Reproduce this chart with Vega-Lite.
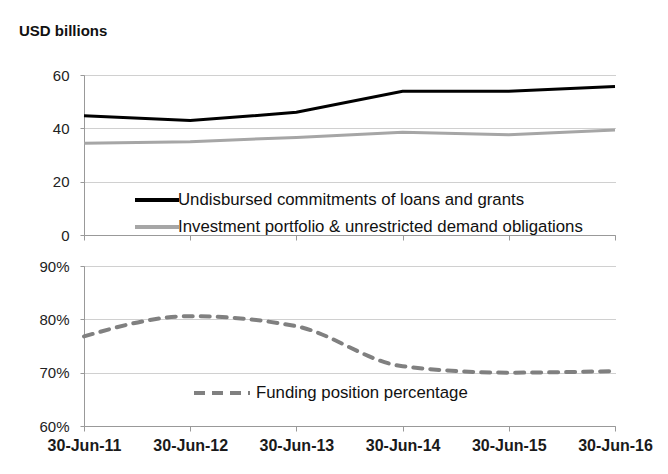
{
  "$schema": "https://vega.github.io/schema/vega-lite/v6.json",
  "padding": {"left": 19, "top": 24, "right": 5, "bottom": 5},
  "background": "white",
  "title": {"text": "USD billions", "anchor": "start", "frame": "bounds", "fontSize": 15, "fontWeight": "bold", "font": "Liberation Sans", "color": "#111111", "offset": 29},
  "spacing": 16,
  "resolve": {"scale": {"color": "independent"}, "legend": {"color": "independent"}},
  "config": {
    "view": {"stroke": null},
    "font": "Liberation Sans",
    "axis": {"domainColor": "#999999", "tickColor": "#999999", "gridColor": "#a0a0a0", "gridDash": [1, 1], "labelFont": "Liberation Sans", "labelColor": "#222222", "labelFontSize": 15, "tickSize": 4, "domainWidth": 1, "tickWidth": 1},
    "legend": {"labelFont": "Liberation Sans", "labelFontSize": 16.8, "labelColor": "#111111", "padding": 0, "orient": "none", "labelLimit": 0}
  },
  "vconcat": [
    {
      "width": 531,
      "height": 160,
      "data": {"values": [
        {"date": "30-Jun-11", "series": "Undisbursed commitments of loans and grants", "value": 44.7},
        {"date": "30-Jun-12", "series": "Undisbursed commitments of loans and grants", "value": 42.9},
        {"date": "30-Jun-13", "series": "Undisbursed commitments of loans and grants", "value": 46.0},
        {"date": "30-Jun-14", "series": "Undisbursed commitments of loans and grants", "value": 53.9},
        {"date": "30-Jun-15", "series": "Undisbursed commitments of loans and grants", "value": 53.9},
        {"date": "30-Jun-16", "series": "Undisbursed commitments of loans and grants", "value": 55.7},
        {"date": "30-Jun-11", "series": "Investment portfolio & unrestricted demand obligations", "value": 34.4},
        {"date": "30-Jun-12", "series": "Investment portfolio & unrestricted demand obligations", "value": 35.0},
        {"date": "30-Jun-13", "series": "Investment portfolio & unrestricted demand obligations", "value": 36.6},
        {"date": "30-Jun-14", "series": "Investment portfolio & unrestricted demand obligations", "value": 38.5},
        {"date": "30-Jun-15", "series": "Investment portfolio & unrestricted demand obligations", "value": 37.6},
        {"date": "30-Jun-16", "series": "Investment portfolio & unrestricted demand obligations", "value": 39.4}
      ]},
      "mark": {"type": "line", "strokeWidth": 3},
      "encoding": {
        "x": {"field": "date", "type": "ordinal", "sort": null, "scale": {"type": "point", "padding": 0},
              "axis": {"title": null, "labels": false, "ticks": true, "tickSize": 5, "grid": false}},
        "y": {"field": "value", "type": "quantitative", "scale": {"domain": [0, 60]},
              "axis": {"title": null, "values": [0, 20, 40, 60], "grid": true, "labelPadding": 11, "minExtent": 65, "maxExtent": 65}},
        "color": {"field": "series", "type": "nominal", "sort": null,
                  "scale": {"domain": ["Undisbursed commitments of loans and grants", "Investment portfolio & unrestricted demand obligations"], "range": ["#000000", "#a6a6a6"]},
                  "legend": {"title": null, "symbolType": "M-2,0H2", "symbolSize": 484, "symbolStrokeWidth": 4, "labelOffset": 8, "rowPadding": 5, "legendX": 60, "legendY": 112}}
      }
    },
    {
      "width": 531,
      "height": 160,
      "data": {"values": [
        {"date": "30-Jun-11", "series": "Funding position percentage", "value": 0.768},
        {"date": "30-Jun-12", "series": "Funding position percentage", "value": 0.806},
        {"date": "30-Jun-13", "series": "Funding position percentage", "value": 0.787},
        {"date": "30-Jun-14", "series": "Funding position percentage", "value": 0.712},
        {"date": "30-Jun-15", "series": "Funding position percentage", "value": 0.700},
        {"date": "30-Jun-16", "series": "Funding position percentage", "value": 0.703}
      ]},
      "mark": {"type": "line", "strokeWidth": 4, "strokeDash": [9, 8], "strokeCap": "round", "interpolate": "monotone"},
      "encoding": {
        "x": {"field": "date", "type": "ordinal", "sort": null, "scale": {"type": "point", "padding": 0},
              "axis": {"title": null, "labelAngle": 0, "labelFontSize": 16, "labelFontWeight": "bold", "labelColor": "#1a1a1a", "tickSize": 5, "labelPadding": 6, "grid": false}},
        "y": {"field": "value", "type": "quantitative", "scale": {"domain": [0.6, 0.9]},
              "axis": {"title": null, "values": [0.6, 0.7, 0.8, 0.9], "format": ".0%", "grid": true, "labelPadding": 11, "minExtent": 65, "maxExtent": 65}},
        "color": {"field": "series", "type": "nominal",
                  "scale": {"range": ["#808080"]},
                  "legend": {"title": null, "symbolType": "M-2,0H2", "symbolSize": 784, "symbolStrokeWidth": 4, "symbolDash": [11, 7], "labelOffset": 18, "legendX": 122, "legendY": 111}}
      }
    }
  ]
}
